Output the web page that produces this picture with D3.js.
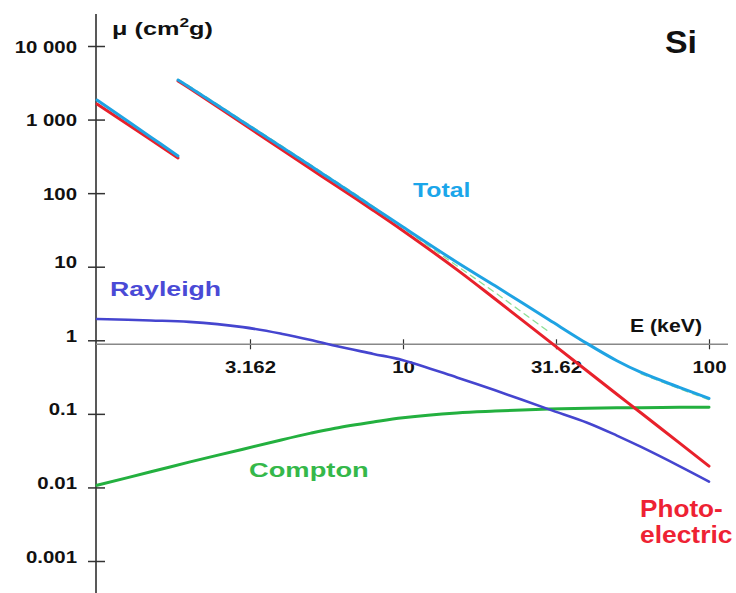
<!DOCTYPE html>
<html>
<head>
<meta charset="utf-8">
<script src="https://cdn.jsdelivr.net/npm/d3@7"></script>
<style>
  body { margin: 0; background: #fff; }
  svg { display: block; }
  text { font-family: "Liberation Sans", Arial, sans-serif; font-weight: bold; }
</style>
</head>
<body>
<script>
// energies in keV, mass attenuation in cm2/g
const energiesLow = [1, 1.5, 1.84]
const totalLow = [1845, 577, 320]
const photoLow = [1630, 531, 301]

const energiesHigh = [1.84, 2, 3, 4, 5, 6, 8, 10, 15, 20, 30, 40, 50, 60, 80, 100]
const totalHigh = [3450, 2780, 930, 427, 233, 142, 64, 34.6, 11.5, 5.5, 1.90, 0.90, 0.527, 0.365, 0.229, 0.162]
const photoHigh = [3340, 2680, 875, 395, 213, 129, 58.2, 30.8, 9.14, 3.64, 0.975, 0.383, 0.185, 0.1026, 0.0403, 0.0195]
// faint dashed green trace lying along the total
const greenTrace = [3530, 2860, 962, 442, 241, 147, 66, 33.5, 10.3, 4.45, 1.3, null, null, 0.35, 0.22, 0.155]

const energiesFull = [1, 1.5, 2, 3, 4, 5, 6, 8, 10, 15, 20, 30, 40, 50, 60, 80, 100]
const rayleigh = [1.95, 1.86, 1.78, 1.51, 1.23, 1.01, 0.841, 0.653, 0.537, 0.313, 0.209, 0.115, 0.0759, 0.0507, 0.0355, 0.0195, 0.012]
const compton = [0.0107, 0.0163, 0.0221, 0.0331, 0.0442, 0.0547, 0.0639, 0.0776, 0.0887, 0.103, 0.109, 0.116, 0.119, 0.121, 0.1215, 0.1225, 0.123]

const yTicks = [10000, 1000, 100, 10, 1, 0.1, 0.01, 0.001]
const yTickLabels = ["10 000", "1 000", "100", "10", "1", "0.1", "0.01", "0.001"]
const xTicks = [3.162, 10, 31.62, 100]
const xTickLabels = ["3.162", "10", "31.62", "100"]

const width = 736,
    height = 593

const svg = d3.select("body").append("svg")
    .attr("width", width)
    .attr("height", height)

const x = d3.scaleLog().domain([1, 100]).range([97, 709])
const y = d3.scaleLog().domain([0.001, 10000]).range([561, 46])

// y axis
svg.append("line")
    .attr("x1", 96).attr("x2", 96)
    .attr("y1", 14).attr("y2", height)
    .attr("stroke", "#222").attr("stroke-width", 1.5)

const gy = svg.append("g")
    .attr("transform", "translate(96,0)")
    .call(d3.axisLeft(y).tickValues(yTicks).tickFormat((d, i) => yTickLabels[i]))
gy.select(".domain").remove()
gy.selectAll(".tick line")
    .attr("x1", -8).attr("x2", 9)
    .attr("stroke", "#333").attr("stroke-width", 1.5)
gy.selectAll(".tick text")
    .attr("dy", null)
    .attr("x", -19 / 1.2)
    .attr("y", d => d >= 100 ? 6 : 1)
    .attr("transform", "scale(1.2,1)")
    .attr("font-size", 17)
    .attr("font-family", "Liberation Sans, Arial, sans-serif")
    .attr("fill", "#111")

// x axis, drawn a few px under the "1" tick as in the original figure
const gx = svg.append("g")
    .attr("transform", `translate(0,${y(1) + 4})`)
    .call(d3.axisBottom(x).tickValues(xTicks).tickFormat((d, i) => xTickLabels[i]))
gx.select(".domain").remove()
gx.append("line")
    .attr("x1", 96).attr("x2", 728)
    .attr("stroke", "#888").attr("stroke-width", 1.5)
gx.selectAll(".tick line")
    .attr("y1", -5).attr("y2", 5)
    .attr("stroke", "#333").attr("stroke-width", 1.2)
gx.selectAll(".tick text")
    .attr("dy", null)
    .attr("y", 29)
    .attr("transform", "scale(1.2,1)")
    .attr("font-size", 17)
    .attr("font-family", "Liberation Sans, Arial, sans-serif")
    .attr("fill", "#111")

// curves
const line = d3.line()
    .defined(d => d[1] != null)
    .x(d => x(d[0]))
    .y(d => y(d[1]))
    .curve(d3.curveCatmullRom.alpha(0.5))

const series = (es, vs) => es.map((e, i) => [e, vs[i]])

const drawCurve = (pts, color, w, dash, opacity) => {
    svg.append("path")
        .attr("d", line(pts))
        .attr("fill", "none")
        .attr("stroke", color)
        .attr("stroke-width", w)
        .attr("stroke-linecap", "round")
        .attr("stroke-dasharray", dash || null)
        .attr("opacity", opacity || 1)
}

drawCurve(series(energiesFull, compton), "#23b03f", 3)
drawCurve(series(energiesFull, rayleigh), "#4545cf", 2.6)
drawCurve(series(energiesLow, photoLow), "#e8212b", 3)
drawCurve(series(energiesHigh, photoHigh), "#e8212b", 3)
drawCurve(series(energiesHigh, greenTrace), "#7fdc8a", 1.3, "6,5", 0.9)
drawCurve(series(energiesLow, totalLow), "#1fa3e3", 3)
drawCurve(series(energiesHigh, totalHigh), "#1fa3e3", 3)

// labels
const label = (txt, px, py, size, sx, color) => {
    return svg.append("text")
        .attr("transform", `translate(${px},${py}) scale(${sx},1)`)
        .attr("font-size", size)
        .attr("fill", color)
        .text(txt)
}

const mu = label("\u03bc (cm", 112, 35, 19, 1.33, "#111")
mu.append("tspan").attr("font-size", 13).attr("dy", -8).text("2")
mu.append("tspan").attr("dy", 8).text("g)")

label("E (keV)", 630, 332, 18, 1.18, "#111")
label("Si", 665, 53, 32, 1.06, "#111")
label("Total", 413, 197, 21, 1.18, "#1ba6ea")
label("Rayleigh", 110, 296, 21, 1.27, "#4a4ad6")
label("Compton", 249, 477, 21, 1.3, "#35b84a")
label("Photo-", 640, 517, 24, 1.09, "#ee2233")
label("electric", 640, 543, 24, 1.1, "#ee2233")
</script>
</body>
</html>
